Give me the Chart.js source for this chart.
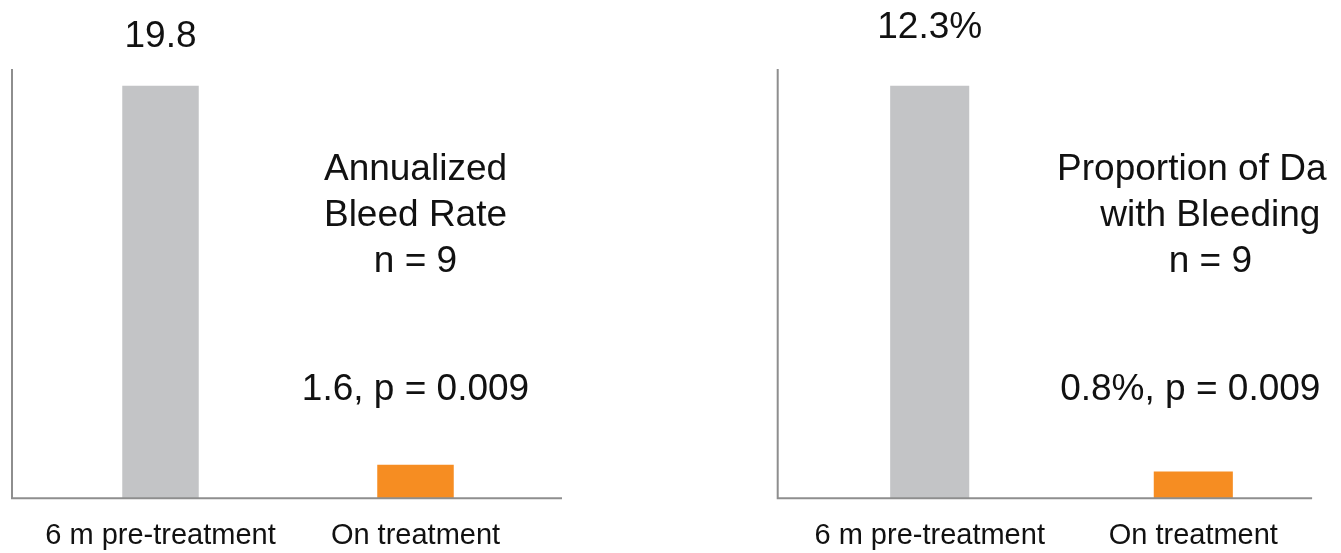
<!DOCTYPE html>
<html>
<head>
<meta charset="utf-8">
<script src="https://cdn.jsdelivr.net/npm/chart.js@4.4.1/dist/chart.umd.min.js"></script>
<style>
  html, body { margin: 0; padding: 0; background: #fff; overflow: hidden; width: 1341px; height: 553px; }
  canvas { position: absolute; top: 0; }
  #bleedRateChart { left: 0; }
  #daysChart { left: 740px; }
</style>
</head>
<body>
<canvas id="bleedRateChart" width="600" height="573"></canvas>
<canvas id="daysChart" width="587" height="573"></canvas>
<script>
// data
const categories = ["6 m pre-treatment", "On treatment"];
const bleedRate = [19.8, 1.6];
const daysWithBleeding = [12.3, 0.8];
const bleedRateTitle = ["Annualized", "Bleed Rate", "n = 9"];
const daysTitle = ["Proportion of Days", "with Bleeding", "n = 9"];
const pValue = "0.009";

const FONT = "'Liberation Sans', Arial, Helvetica, sans-serif";
const GREY = "#C3C4C6";
const ORANGE = "#F68D22";
const AXIS = "#8E8E8E";
const INK = "#111111";

function byId(id) {
  return document.getElementById(id);
}

// axis lines + text annotations
const annotate = {
  id: "annotate",
  afterDatasetsDraw(chart, args, opts) {
    const ctx = chart.ctx;
    const area = chart.chartArea;
    const y0 = chart.scales.y.getPixelForValue(0);
    const bars = chart.getDatasetMeta(0).data;
    const vals = chart.data.datasets[0].data;
    const fmt = (v) => v.toFixed(1) + opts.unit;

    ctx.save();
    ctx.strokeStyle = AXIS;
    ctx.lineWidth = 2;
    ctx.beginPath();
    const ax = area.left - opts.axisLeft;
    ctx.moveTo(ax, area.top);
    ctx.lineTo(ax, y0);
    ctx.lineTo(area.right + opts.axisRight, y0);
    ctx.stroke();

    ctx.fillStyle = INK;
    ctx.font = `37px ${FONT}`;
    ctx.textAlign = "center";
    ctx.textBaseline = "alphabetic";
    ctx.fillText(fmt(vals[0]), bars[0].x, opts.topLabelY);
    ctx.fillText(`${fmt(vals[1])}, p = ${pValue}`, bars[1].x + opts.noteDx, 400);
    opts.title.forEach((line, i) => {
      ctx.fillText(line, bars[1].x + opts.titleDx, 180 + i * 46);
    });
    ctx.restore();
  }
};

function buildChart(canvas, values, yMax, padding, notes) {
  return new Chart(canvas, {
    type: "bar",
    data: {
      labels: categories,
      datasets: [{
        data: values,
        backgroundColor: [GREY, ORANGE],
        borderWidth: 0,
        barPercentage: 0.3,
        categoryPercentage: 1
      }]
    },
    options: {
      responsive: false,
      animation: false,
      layout: { padding },
      plugins: {
        legend: { display: false },
        tooltip: { enabled: false },
        annotate: notes
      },
      scales: {
        x: {
          grid: { display: false, drawTicks: false },
          border: { display: false },
          ticks: {
            color: INK,
            padding: 20,
            maxRotation: 0,
            font: { family: FONT, size: 29 }
          }
        },
        y: { display: false, min: 0, max: yMax }
      }
    },
    plugins: [annotate]
  });
}

buildChart(byId("bleedRateChart"), bleedRate, 20.6,
  { left: 33, right: 57, top: 69, bottom: 0 },
  { unit: "", title: bleedRateTitle, axisLeft: 21, axisRight: 19, topLabelY: 46.5, noteDx: 0, titleDx: 0 });

buildChart(byId("daysChart"), daysWithBleeding, 12.8,
  { left: 57.9, right: 1.9, top: 69, bottom: 0 },
  { unit: "%", title: daysTitle, axisLeft: 20.2, axisRight: -13, topLabelY: 37.5, noteDx: -3, titleDx: 17 });
</script>
</body>
</html>
